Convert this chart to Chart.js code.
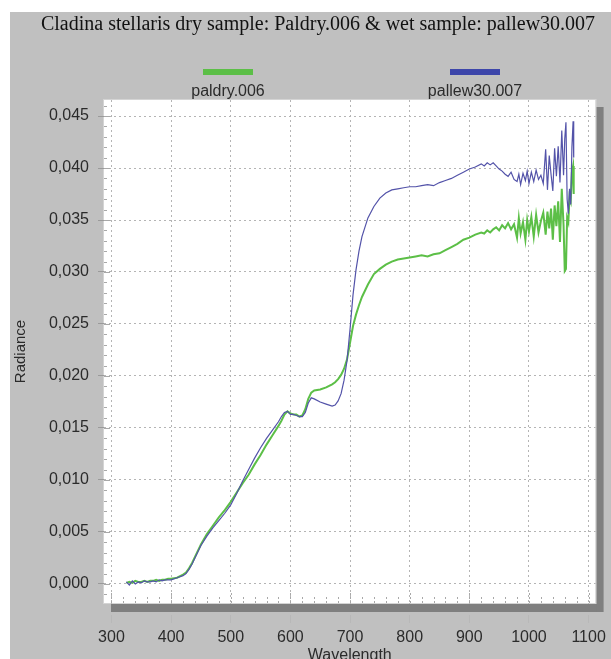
<!DOCTYPE html>
<html>
<head>
<meta charset="utf-8">
<title>Cladina stellaris radiance</title>
<script src="https://cdn.jsdelivr.net/npm/chart.js@4.4.1/dist/chart.umd.min.js"></script>
<style>
  html, body { margin: 0; padding: 0; background: #ffffff; }
  #wrap { position: relative; width: 611px; height: 659px; }
</style>
</head>
<body>
<div id="wrap"><canvas id="spectrum"></canvas></div>
<script>
/* ── Data ────────────────────────────────────────── */
const chartTitle = 'Cladina stellaris dry sample: Paldry.006 & wet sample: pallew30.007';
const seriesNames = ['paldry.006', 'pallew30.007'];

const wavelengths = [
  325, 330, 335, 340, 345, 350, 355, 360, 365, 370, 375, 380, 385, 390, 395, 400,
  410, 420, 425, 430, 435, 440, 450, 460, 470, 480, 490, 500, 510, 520, 530, 540,
  550, 560, 570, 580, 585, 590, 595, 600, 605, 610, 615, 620, 625, 630, 635, 640,
  650, 660, 670, 675, 680, 685, 690, 695, 700, 705, 710, 715, 720, 730, 740, 750,
  760, 770, 780, 790, 800, 810, 820, 830, 840, 850, 860, 870, 880, 890, 900, 910,
  920, 925, 930, 935, 940, 945, 950, 955, 960, 965, 970, 975, 980, 983, 986, 990,
  994, 997, 1000, 1004, 1008, 1012, 1016, 1020, 1024, 1028, 1031, 1034, 1037, 1040, 1043, 1046,
  1049, 1052, 1055, 1058, 1060, 1062, 1064, 1066, 1068, 1070, 1072, 1074, 1075
];

const dryValues = [
  0.0001, 0.0002, 0.0001, 0.0003, 0.0002, 0.0002, 0.0003, 0.0002, 0.0003, 0.0003, 0.0004, 0.0003, 0.0004, 0.0004, 0.0005, 0.0005,
  0.0006, 0.0009, 0.0011, 0.0015, 0.0020, 0.0026, 0.0038, 0.0048, 0.0056, 0.0064, 0.0071, 0.0079, 0.0088, 0.0097, 0.0105, 0.0115,
  0.0124, 0.0134, 0.0143, 0.0152, 0.0157, 0.0163, 0.0166, 0.0164, 0.0163, 0.0163, 0.0161, 0.0162, 0.0168, 0.0178, 0.0184, 0.0186,
  0.0187, 0.0189, 0.0192, 0.0194, 0.0197, 0.0201, 0.0207, 0.0216, 0.0232, 0.0248, 0.0259, 0.0268, 0.0276, 0.0288, 0.0298, 0.0303,
  0.0307, 0.0310, 0.0312, 0.0313, 0.0314, 0.0315, 0.0316, 0.0315, 0.0317, 0.0318, 0.0321, 0.0324, 0.0327, 0.0331, 0.0333, 0.0336,
  0.0338, 0.0337, 0.0340, 0.0338, 0.0341, 0.0343, 0.0340, 0.0345, 0.0342, 0.0347, 0.0341, 0.0346, 0.0333, 0.0352, 0.0337, 0.0348,
  0.0331, 0.0350, 0.0339, 0.0353, 0.0334, 0.0355, 0.0338, 0.0349, 0.0357, 0.0336, 0.0358, 0.0342, 0.0361, 0.0331, 0.0364, 0.0344,
  0.0368, 0.0329, 0.0380, 0.0345, 0.0301, 0.0303, 0.0352, 0.0348, 0.0372, 0.0368, 0.0396, 0.0402, 0.0375
];

const wetValues = [
  0.0002, -0.0001, 0.0003, 0.0000, 0.0002, 0.0001, 0.0003, 0.0002, 0.0002, 0.0003, 0.0002, 0.0004, 0.0003, 0.0004, 0.0004, 0.0004,
  0.0006, 0.0008, 0.0010, 0.0014, 0.0019, 0.0025, 0.0037, 0.0046, 0.0054, 0.0061, 0.0068, 0.0076, 0.0087, 0.0099, 0.0110, 0.0121,
  0.0131, 0.0140, 0.0148, 0.0156, 0.0161, 0.0165, 0.0166, 0.0163, 0.0163, 0.0162, 0.0161, 0.0161, 0.0165, 0.0174, 0.0179, 0.0178,
  0.0175, 0.0173, 0.0171, 0.0172, 0.0176, 0.0183, 0.0196, 0.0215, 0.0245, 0.0278, 0.0302, 0.0320, 0.0334, 0.0352, 0.0363, 0.0371,
  0.0376, 0.0379, 0.0380, 0.0381, 0.0382, 0.0382, 0.0383, 0.0384, 0.0383, 0.0386, 0.0388, 0.0390, 0.0393, 0.0396, 0.0399, 0.0401,
  0.0404, 0.0402, 0.0405, 0.0403, 0.0405, 0.0402, 0.0399, 0.0397, 0.0394, 0.0392, 0.0396, 0.0389, 0.0387, 0.0394, 0.0384, 0.0395,
  0.0388, 0.0397, 0.0385, 0.0396, 0.0387, 0.0398, 0.0389, 0.0393, 0.0385, 0.0418, 0.0379, 0.0412, 0.0394, 0.0378, 0.0419, 0.0392,
  0.0421, 0.0386, 0.0436, 0.0393, 0.0428, 0.0444, 0.0370, 0.0356, 0.0380, 0.0365, 0.0420, 0.0445, 0.0410
];

const xTicks = [300, 400, 500, 600, 700, 800, 900, 1000, 1100];
const yTicks = [0, 0.005, 0.010, 0.015, 0.020, 0.025, 0.030, 0.035, 0.040, 0.045];

/* ── Colours ─────────────────────────────────────── */
const panelGrey  = '#c0c0c0';
const shadowGrey = '#7f7f7f';
const dryGreen   = '#5cbf47';
const wetBlue    = '#5353a9';
const swatchBlue = '#3d46aa';
const textColor  = '#2b2b2b';

const toPoints = ys => wavelengths.map((x, i) => ({ x: x, y: ys[i] }));

/* ── Panel, shadow, minor ticks, title and legend ── */
const panelPlugin = {
  id: 'panel',
  beforeDraw(chart) {
    const { ctx, chartArea: a } = chart;
    ctx.save();
    ctx.fillStyle = panelGrey;
    ctx.fillRect(10, 12, chart.width - 10, chart.height - 12);
    ctx.fillStyle = '#ffffff';
    ctx.fillRect(a.left, a.top, a.right - a.left, a.bottom - a.top);
    ctx.strokeStyle = '#d4d4d4';
    ctx.lineWidth = 1;
    ctx.strokeRect(a.left - 0.5, a.top - 0.5, a.right - a.left + 1, a.bottom - a.top + 1);
    ctx.restore();
  },
  beforeDatasetsDraw(chart) {
    const { ctx, chartArea: a, scales } = chart;
    ctx.save();
    ctx.strokeStyle = '#a8a8a8';
    ctx.lineWidth = 1;
    ctx.setLineDash([2, 2]);
    // minor ticks along the bottom every 20 nm
    for (let w = 300; w <= 1100; w += 20) {
      const px = Math.round(scales.x.getPixelForValue(w)) + 0.5;
      const len = (w % 100 === 0) ? 12 : 8;
      ctx.beginPath();
      ctx.moveTo(px, a.bottom);
      ctx.lineTo(px, a.bottom - len);
      ctx.stroke();
    }
    ctx.setLineDash([]);
    // minor ticks along the left every 0.001
    for (let k = -1; k <= 46; k++) {
      const py = Math.round(scales.y.getPixelForValue(k / 1000)) + 0.5;
      if (py < a.top || py > a.bottom) continue;
      ctx.beginPath();
      ctx.moveTo(a.left, py);
      ctx.lineTo(a.left + (k % 5 === 0 ? 6 : 3), py);
      ctx.stroke();
    }
    ctx.restore();
  },
  afterDraw(chart) {
    const { ctx, chartArea: a } = chart;
    ctx.save();
    // hide the upper part of the outer x ticks, then the drop shadow
    ctx.fillStyle = panelGrey;
    ctx.fillRect(a.left, a.bottom + 1, chart.width - a.left, 11);
    ctx.fillStyle = shadowGrey;
    ctx.fillRect(a.left + 7, a.bottom + 1, a.right - a.left, 8);
    ctx.fillRect(a.right + 1, a.top + 7, 7, a.bottom - a.top + 2);

    // title
    ctx.fillStyle = '#111111';
    ctx.font = '20px "Liberation Serif", "Times New Roman", serif';
    ctx.textAlign = 'center';
    ctx.textBaseline = 'middle';
    ctx.fillText(chartTitle, 318, 25);

    // legend: swatch above the name
    const items = [
      { name: seriesNames[0], color: dryGreen, cx: 228 },
      { name: seriesNames[1], color: swatchBlue, cx: 475 }
    ];
    ctx.font = '16px "Liberation Sans", Arial, sans-serif';
    items.forEach(it => {
      ctx.fillStyle = it.color;
      ctx.fillRect(it.cx - 25, 69, 50, 6);
      ctx.fillStyle = textColor;
      ctx.fillText(it.name, it.cx, 92);
    });
    ctx.restore();
  }
};

/* ── Chart ───────────────────────────────────────── */
const tickFont = { family: '"Liberation Sans", Arial, sans-serif', size: 16 };

new Chart(document.getElementById('spectrum'), {
  type: 'scatter',
  data: {
    datasets: [
      {
        label: seriesNames[1],
        data: toPoints(wetValues),
        showLine: true,
        borderColor: wetBlue,
        borderWidth: 1.2,
        pointRadius: 0,
        tension: 0,
        order: 0
      },
      {
        label: seriesNames[0],
        data: toPoints(dryValues),
        showLine: true,
        borderColor: dryGreen,
        borderWidth: 2,
        pointRadius: 0,
        tension: 0,
        order: 1
      }
    ]
  },
  options: {
    responsive: true,
    maintainAspectRatio: false,
    animation: false,
    layout: { padding: { top: 100, right: 13, left: 0, bottom: 0 } },
    plugins: {
      legend: { display: false },
      title: { display: false },
      tooltip: { enabled: false }
    },
    scales: {
      x: {
        type: 'linear',
        min: 287.5,
        max: 1111.7,
        afterFit: s => { s.height = 56; },
        afterBuildTicks: s => { s.ticks = xTicks.map(v => ({ value: v })); },
        grid: {
          color: '#b4b4b4',
          lineWidth: 1,
          tickLength: 20,
          tickColor: '#b8b8b8'
        },
        border: { display: false, dash: [2, 3] },
        ticks: {
          color: textColor,
          font: tickFont,
          padding: 5,
          maxRotation: 0,
          callback: v => String(v)
        },
        title: {
          display: true,
          text: 'Wavelength',
          color: textColor,
          font: tickFont,
          padding: { top: 0, bottom: -6 }
        }
      },
      y: {
        type: 'linear',
        min: -0.00183,
        max: 0.04654,
        afterFit: s => { s.width = 104; },
        afterBuildTicks: s => { s.ticks = yTicks.map(v => ({ value: v })); },
        grid: {
          color: '#b4b4b4',
          lineWidth: 1,
          tickLength: 6,
          tickColor: '#9a9a9a'
        },
        border: { display: false, dash: [2, 3] },
        ticks: {
          color: textColor,
          font: tickFont,
          padding: 9,
          callback: v => Number(v).toFixed(3).replace('.', ',')
        },
        title: {
          display: true,
          text: 'Radiance',
          color: textColor,
          font: { family: '"Liberation Sans", Arial, sans-serif', size: 15 },
          padding: { top: 12, bottom: 0 }
        }
      }
    }
  },
  plugins: [panelPlugin]
});
</script>
</body>
</html>
